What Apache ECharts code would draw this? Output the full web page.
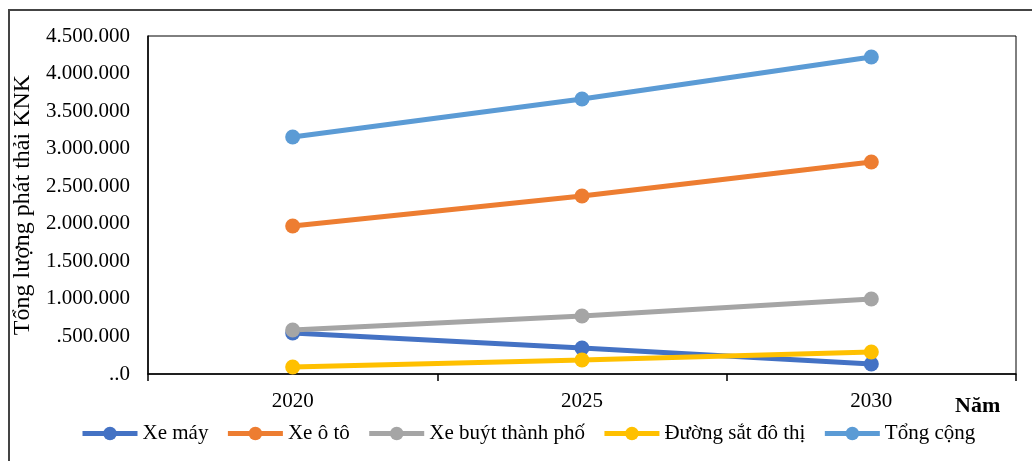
<!DOCTYPE html>
<html>
<head>
<meta charset="utf-8">
<script src="https://cdn.jsdelivr.net/npm/echarts@6/dist/echarts.min.js"></script>
<style>
  html, body { margin: 0; padding: 0; background: #fff; }
  #chart { width: 1032px; height: 461px; }
</style>
</head>
<body>
<div id="chart"></div>
<script>
// Years on the category axis
const years = ['2020', '2025', '2030'];

// GHG emissions per transport mode (tonnes)
const xeMay = [546000, 346000, 133000];
const xeOto = [1970000, 2370000, 2822000];
const xeBuyt = [586000, 772000, 999000];
const duongSat = [93000, 186000, 293000];
const tongCong = [3155000, 3661000, 4220000];

// Value-axis tick labels, from 0 up in steps of 500.000
const yTickLabels = ['..0', '.500.000', '1.000.000', '1.500.000', '2.000.000',
  '2.500.000', '3.000.000', '3.500.000', '4.000.000', '4.500.000'];

const FONT = '"Liberation Serif", "Times New Roman", serif';

const chart = echarts.init(document.getElementById('chart'), null, { renderer: 'canvas' });

function lineSeries(name, data, color) {
  return {
    name: name,
    type: 'line',
    data: data,
    symbol: 'circle',
    symbolSize: 15,
    itemStyle: { color: color },
    lineStyle: { color: color, width: 5 },
    emphasis: { disabled: true },
    animation: false
  };
}

chart.setOption({
  animation: false,
  textStyle: { fontFamily: FONT, color: '#000' },
  grid: {
    left: 148, right: 16, top: 36, bottom: 87,
    show: true, borderColor: '#000', borderWidth: 1, backgroundColor: 'transparent'
  },
  legend: {
    left: 80, top: 423, padding: 0,
    itemWidth: 55, itemHeight: 17, itemGap: 17,
    lineStyle: { width: 5 },
    textStyle: { fontFamily: FONT, fontSize: 21, color: '#000' },
    data: ['Xe máy', 'Xe ô tô', 'Xe buýt thành phố', 'Đường sắt đô thị', 'Tổng cộng']
  },
  xAxis: {
    type: 'category',
    data: years,
    boundaryGap: true,
    axisLine: { lineStyle: { color: '#000', width: 1.5 } },
    axisTick: { show: true, length: 7, lineStyle: { color: '#000', width: 1.5 } },
    axisLabel: { fontFamily: FONT, fontSize: 21, color: '#000', margin: 17 },
    splitLine: { show: false }
  },
  yAxis: {
    type: 'value',
    min: 0, max: 4500000, interval: 500000,
    name: 'Tổng lượng phát thải KNK',
    nameLocation: 'middle',
    nameGap: 104,
    nameTextStyle: { fontFamily: FONT, fontSize: 24, color: '#000' },
    axisLine: { show: true, lineStyle: { color: '#000', width: 1.5 } },
    axisTick: { show: false },
    splitLine: { show: false },
    axisLabel: {
      fontFamily: FONT, fontSize: 21, color: '#000', margin: 18,
      formatter: function (v) { return yTickLabels[Math.round(v / 500000)]; }
    }
  },
  graphic: [
    {
      type: 'rect', silent: true, z: -1,
      shape: { x: 9, y: 10, width: 1060, height: 520 },
      style: { fill: 'none', stroke: '#444', lineWidth: 2 }
    },
    {
      type: 'text', left: 955, top: 395, silent: true,
      style: { text: 'Năm', font: 'bold 22px ' + FONT, fill: '#000' }
    }
  ],
  series: [
    lineSeries('Xe máy', xeMay, '#4472C4'),
    lineSeries('Xe ô tô', xeOto, '#ED7D31'),
    lineSeries('Xe buýt thành phố', xeBuyt, '#A5A5A5'),
    lineSeries('Đường sắt đô thị', duongSat, '#FFC000'),
    lineSeries('Tổng cộng', tongCong, '#5B9BD5')
  ]
});
</script>
</body>
</html>
